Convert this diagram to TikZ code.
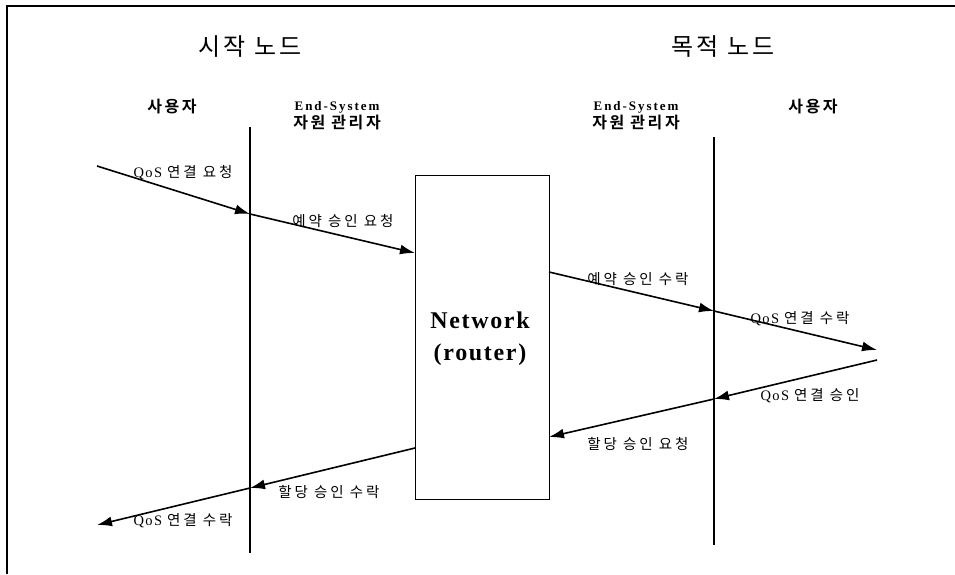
\documentclass[tikz,border=0pt]{standalone}
\usepackage{fontspec}
\setmainfont{Liberation Serif}
\newfontfamily\krsp[LetterSpace=20]{Noto Sans CJK KR}
\newfontfamily\sersp[LetterSpace=10]{Liberation Serif}
\newfontfamily\krtitle[LetterSpace=12]{Noto Sans CJK KR}
\newfontfamily\krbold[LetterSpace=16]{Noto Sans CJK KR Bold}
\newfontfamily\serbsp[LetterSpace=15]{Liberation Serif Bold}
\newfontfamily\netfont[LetterSpace=7]{Liberation Serif Bold}
\newcommand\qos{{\sersp QoS}\hspace{5pt}}
\usetikzlibrary{arrows.meta}
\begin{document}
\begin{tikzpicture}[x=1pt,y=-1pt,
  msg/.style={line width=1.6pt,-{Latex[length=15pt,width=10pt]}},
  lane/.style={line width=1.2pt},
  lbl/.style={inner sep=0pt,font=\fontsize{14.5}{16}\selectfont},
  ttl/.style={inner sep=0pt,font=\fontsize{24}{28}\selectfont\krtitle},
  role/.style={inner sep=0pt,align=center,font=\fontsize{16}{19}\selectfont}]
\useasboundingbox (0,0) rectangle (955,574);
\draw[line width=1.5pt] (7,574) -- (7,6) -- (955,6);

% titles
\node[ttl] (t1) at (250,47) {시작 노드};
\node[ttl] (t2) at (723,47) {목적 노드};

% roles
\node[role] (u1) at (172,107) {\krbold 사용자};
\node[role] (r1) at (337,116) {\serbsp\fontsize{13}{19}\selectfont End-System\\[-1pt]\krbold\fontsize{16}{19}\selectfont 자원 관리자};
\node[role] (r2) at (636,116) {\serbsp\fontsize{13}{19}\selectfont End-System\\[-1pt]\krbold\fontsize{16}{19}\selectfont 자원 관리자};
\node[role] (u2) at (813,107) {\krbold 사용자};

% lifelines
\coordinate (L1top) at (250,127);
\coordinate (L1bot) at (250,553);
\coordinate (L2top) at (714,137);
\coordinate (L2bot) at (714,545);
\draw[lane] (L1top) -- (L1bot);
\draw[lane] (L2top) -- (L2bot);

% network box
\node[draw,line width=1.4pt,minimum width=134pt,minimum height=324pt,inner sep=0pt,anchor=north west] (net) at (415,175) {};
\node[align=center,inner sep=0pt,font=\fontsize{24}{32}\selectfont\netfont] (nettxt) at (480,339) {Network\\(router)};

% message points
\coordinate (s1) at (97,166);
\coordinate (m1) at (250,214);
\coordinate (n1) at (415,253);
\coordinate (n2) at (549,272);
\coordinate (m2) at (714,311);
\coordinate (e2) at (877,350);
\coordinate (e3) at (877,360);
\coordinate (m3) at (714,399);
\coordinate (n3) at (549,437);
\coordinate (n4) at (415,448);
\coordinate (m4) at (250,488);
\coordinate (s4) at (97,525);

\draw[msg] (s1) -- (m1);
\draw[msg] (m1) -- (n1);
\draw[msg] (n2) -- (m2);
\draw[msg] (m2) -- (e2);
\draw[msg] (e3) -- (m3);
\draw[msg] (m3) -- (n3);
\draw[msg] (n4) -- (m4);
\draw[msg] (m4) -- (s4);

% labels
\node[lbl] (l1) at (183,173) {\qos{\krsp 연결 요청}};
\node[lbl] (l2) at (343,221) {\krsp 예약 승인 요청};
\node[lbl] (l3) at (638,279) {\krsp 예약 승인 수락};
\node[lbl] (l4) at (800,319) {\qos{\krsp 연결 수락}};
\node[lbl] (l5) at (810,396) {\qos{\krsp 연결 승인}};
\node[lbl] (l6) at (638,444) {\krsp 할당 승인 요청};
\node[lbl] (l7) at (329,492) {\krsp 할당 승인 수락};
\node[lbl] (l8) at (183,521) {\qos{\krsp 연결 수락}};
\end{tikzpicture}
\end{document}
